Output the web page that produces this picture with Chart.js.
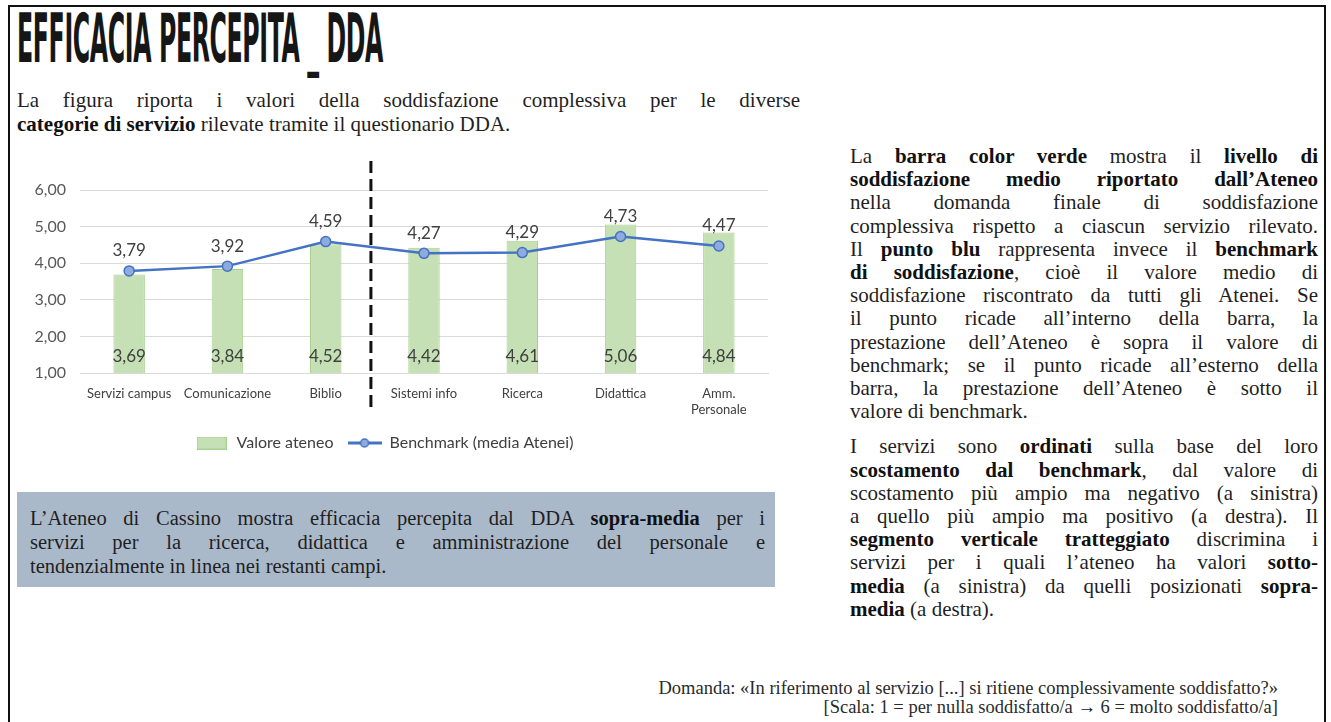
<!DOCTYPE html>
<html>
<head>
<meta charset="utf-8">
<script src="https://cdn.jsdelivr.net/npm/chart.js@4/dist/chart.umd.min.js"></script>
<style>
  html, body { margin: 0; padding: 0; background: #fff; }
  body { width: 1331px; height: 722px; position: relative; overflow: hidden; font-family: 'Liberation Serif', serif; color: #1f1f1f; }
  .frame { position: absolute; left: 8px; top: 5px; width: 1318px; height: 760px; border: 2px solid #111; box-sizing: border-box; }
  #title { position: absolute; left: 17px; top: 6px; font-family: 'Liberation Sans Narrow', 'DejaVu Sans Condensed', 'Liberation Sans', sans-serif; font-weight: bold; font-size: 67px; line-height: 66px; white-space: nowrap; transform-origin: 0 0; color: #161616; letter-spacing: -1px; }
  .txt { position: absolute; }
  .j { text-align: justify; text-align-last: justify; }
  b { color: #111; }
  #intro { left: 17px; top: 88px; width: 783px; font-size: 21px; line-height: 24px; }
  #box { position: absolute; left: 17px; top: 492px; width: 758px; height: 95px; background: #aab9ca; box-sizing: border-box; padding: 14px 10px 0 13px; font-size: 20.5px; line-height: 24px; }
  #side { left: 850px; top: 145px; width: 468px; font-size: 21px; line-height: 23.2px; }
  #side .p2 { margin-top: 12px; }
  #foot { right: 53px; top: 679px; text-align: right; font-size: 18.5px; line-height: 19px; color: #2a2a2a; }
  #wrap { position: absolute; left: 0; top: 140px; width: 800px; height: 330px; }
</style>
</head>
<body>
<div class="frame"></div>
<div id="title">EFFICACIA PERCEPITA _ DDA</div>

<div id="intro" class="txt">
  <div class="j">La figura riporta i valori della soddisfazione complessiva per le diverse</div>
  <div><b>categorie di servizio</b> rilevate tramite il questionario DDA.</div>
</div>

<div id="wrap"><canvas id="chart" width="800" height="330"></canvas></div>

<div id="box">
  <div class="j">L’Ateneo di Cassino mostra efficacia percepita dal DDA <b>sopra-media</b> per i</div>
  <div class="j">servizi per la ricerca, didattica e amministrazione del personale e</div>
  <div>tendenzialmente in linea nei restanti campi.</div>
</div>

<div id="side" class="txt">
  <div class="p1">
    <div class="j">La <b>barra color verde</b> mostra il <b>livello di</b></div>
    <div class="j"><b>soddisfazione medio riportato dall’Ateneo</b></div>
    <div class="j">nella domanda finale di soddisfazione</div>
    <div class="j">complessiva rispetto a ciascun servizio rilevato.</div>
    <div class="j">Il <b>punto blu</b> rappresenta invece il <b>benchmark</b></div>
    <div class="j"><b>di soddisfazione</b>, cioè il valore medio di</div>
    <div class="j">soddisfazione riscontrato da tutti gli Atenei. Se</div>
    <div class="j">il punto ricade all’interno della barra, la</div>
    <div class="j">prestazione dell’Ateneo è sopra il valore di</div>
    <div class="j">benchmark; se il punto ricade all’esterno della</div>
    <div class="j">barra, la prestazione dell’Ateneo è sotto il</div>
    <div>valore di benchmark.</div>
  </div>
  <div class="p2">
    <div class="j">I servizi sono <b>ordinati</b> sulla base del loro</div>
    <div class="j"><b>scostamento dal benchmark</b>, dal valore di</div>
    <div class="j">scostamento più ampio ma negativo (a sinistra)</div>
    <div class="j">a quello più ampio ma positivo (a destra). Il</div>
    <div class="j"><b>segmento verticale tratteggiato</b> discrimina i</div>
    <div class="j">servizi per i quali l’ateneo ha valori <b>sotto-</b></div>
    <div class="j"><b>media</b> (a sinistra) da quelli posizionati <b>sopra-</b></div>
    <div><b>media</b> (a destra).</div>
  </div>
</div>

<div id="foot" class="txt">
  <div>Domanda: «In riferimento al servizio [...] si ritiene complessivamente soddisfatto?»</div>
  <div>[Scala: 1 = per nulla soddisfatto/a <b>→</b> 6 = molto soddisfatto/a]</div>
</div>

<script>
// dati
var categories = ['Servizi campus', 'Comunicazione', 'Biblio', 'Sistemi info', 'Ricerca', 'Didattica', ['Amm.', 'Personale']];
var valoreAteneo = [3.69, 3.84, 4.52, 4.42, 4.61, 5.06, 4.84];
var benchmark = [3.79, 3.92, 4.59, 4.27, 4.29, 4.73, 4.47];
var yMin = 1, yMax = 6, yStep = 1;
var seriesNames = ['Valore ateneo', 'Benchmark (media Atenei)'];

// title: squeeze to the width of the original lettering
var t = document.getElementById('title');
t.style.transform = 'scaleX(' + (366 / t.getBoundingClientRect().width) + ')';

function fmt(v) { return v.toFixed(2).replace('.', ','); }

// legend icons
function barIcon() {
  var c = document.createElement('canvas');
  c.width = 30; c.height = 13;
  var g = c.getContext('2d');
  g.fillStyle = '#C5E0B4'; g.fillRect(0, 0, 30, 13);
  g.strokeStyle = '#A9D18E'; g.lineWidth = 1; g.strokeRect(0.5, 0.5, 29, 12);
  return c;
}
function lineIcon() {
  var c = document.createElement('canvas');
  c.width = 34; c.height = 12;
  var g = c.getContext('2d');
  g.strokeStyle = '#4472C4'; g.lineWidth = 3;
  g.beginPath(); g.moveTo(0, 6); g.lineTo(34, 6); g.stroke();
  g.fillStyle = '#8FAADC'; g.lineWidth = 1.5;
  g.beginPath(); g.arc(17, 6, 4, 0, Math.PI * 2); g.fill(); g.stroke();
  return c;
}
var icons = [barIcon(), lineIcon()];

var valueLabels = {
  id: 'valueLabels',
  afterDatasetsDraw: function (chart) {
    var ctx = chart.ctx;
    var base = chart.scales.y.getPixelForValue(yMin);
    ctx.save();
    ctx.font = '17px Lato';
    ctx.fillStyle = '#404040';
    ctx.textAlign = 'center';
    ctx.textBaseline = 'middle';
    chart.getDatasetMeta(0).data.forEach(function (el, i) {
      ctx.fillText(fmt(valoreAteneo[i]), el.x, base - 16);
    });
    chart.getDatasetMeta(1).data.forEach(function (el, i) {
      ctx.fillText(fmt(benchmark[i]), el.x, el.y - 20);
    });
    ctx.restore();
  }
};

var divider = {
  id: 'divider',
  afterDraw: function (chart) {
    var x = chart.scales.x;
    var a = chart.chartArea;
    var px = x.getPixelForValue(2) + 0.46 * (x.getPixelForValue(3) - x.getPixelForValue(2));
    var ctx = chart.ctx;
    ctx.save();
    ctx.strokeStyle = '#111';
    ctx.lineWidth = 3;
    ctx.setLineDash([12, 6]);
    ctx.beginPath();
    ctx.moveTo(px, a.top - 29);
    ctx.lineTo(px, a.bottom + 35);
    ctx.stroke();
    ctx.restore();
  }
};

var chart = new Chart(document.getElementById('chart'), {
  type: 'bar',
  data: {
    labels: categories,
    datasets: [
      {
        label: seriesNames[0],
        data: valoreAteneo,
        backgroundColor: '#C5E0B4',
        borderColor: '#A9D18E',
        borderWidth: 1,
        barPercentage: 0.32,
        categoryPercentage: 1,
        order: 2
      },
      {
        type: 'line',
        label: seriesNames[1],
        data: benchmark,
        borderColor: '#4472C4',
        borderWidth: 2.5,
        pointRadius: 5,
        pointBackgroundColor: '#8FAADC',
        pointBorderColor: '#4472C4',
        pointBorderWidth: 1.5,
        tension: 0,
        order: 1
      }
    ]
  },
  options: {
    responsive: false,
    animation: false,
    devicePixelRatio: 1,
    layout: { padding: { top: 50, right: 32, left: 0, bottom: 9 } },
    scales: {
      y: {
        min: yMin,
        max: yMax,
        ticks: { stepSize: yStep, padding: 14, color: '#595959', font: { family: 'Lato', size: 16 }, callback: function (v) { return fmt(v); } },
        grid: { color: '#D9D9D9', drawTicks: false },
        border: { display: false },
        afterFit: function (s) { s.width = 80; }
      },
      x: {
        ticks: { padding: 13, color: '#404040', font: { family: 'Lato', size: 13 }, maxRotation: 0, autoSkip: false },
        grid: { display: false, drawTicks: false },
        border: { color: '#D9D9D9' },
        afterFit: function (s) { s.height = 48; }
      }
    },
    plugins: {
      tooltip: { enabled: false },
      legend: {
        position: 'bottom',
        labels: {
          usePointStyle: true,
          pointStyleWidth: 34,
          padding: 14,
          color: '#404040',
          font: { family: 'Lato', size: 16 },
          generateLabels: function (ch) {
            return ch.data.datasets.map(function (ds, i) {
              return { text: ds.label, pointStyle: icons[i], datasetIndex: i, fontColor: '#404040', lineWidth: 0, strokeStyle: 'transparent', fillStyle: 'transparent' };
            });
          }
        }
      }
    }
  },
  plugins: [valueLabels, divider]
});
</script>
</body>
</html>
